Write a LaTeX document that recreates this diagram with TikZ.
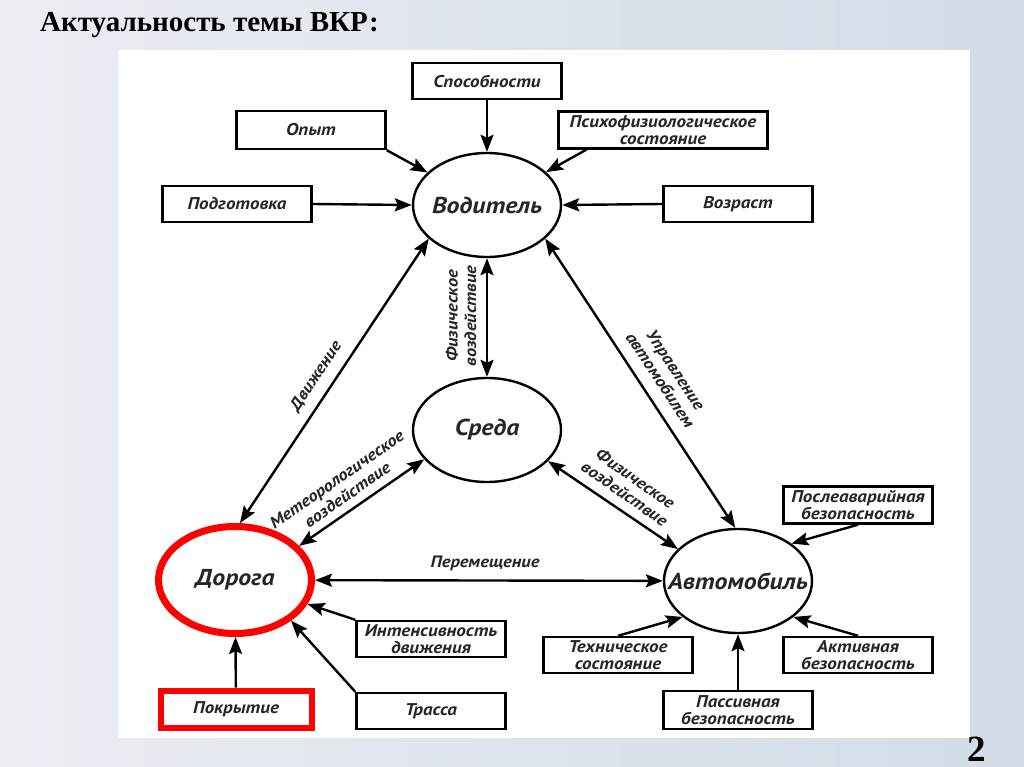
\documentclass[tikz,border=0pt]{standalone}
\usepackage{fontspec}
\setmainfont{Liberation Serif}
\newfontfamily\lbl{PT Sans}[FakeStretch=1.12]
\usetikzlibrary{arrows.meta,shapes.geometric}
\definecolor{bgL}{HTML}{EBEEF3}
\definecolor{bgR}{HTML}{D2DBE7}
\definecolor{txt}{HTML}{262626}
\newcommand{\ctext}[1]{\makebox[0pt]{#1}}
\begin{document}
\begin{tikzpicture}[x=1pt,y=-1pt,
  box/.style={draw=black,line width=2.4pt,fill=white,minimum width=149pt,minimum height=36pt,inner sep=0pt,align=center,text=txt,
    font=\lbl\itshape\bfseries\fontsize{17}{17}\selectfont},
  ell/.style={ellipse,draw=black,line width=2.4pt,fill=white,minimum width=148pt,minimum height=104pt,inner sep=0pt,text=txt,
    font=\lbl\itshape\bfseries\fontsize{23}{26}\selectfont},
  tip/.tip={Stealth[length=17pt,width=13pt,inset=3pt]},
  arr/.style={line width=2.4pt,-tip},
  darr/.style={line width=2.4pt,tip-tip},
  lab/.style={font=\lbl\itshape\bfseries\fontsize{16.5}{18.5}\selectfont,align=center,inner sep=0pt,text=txt}
]
\useasboundingbox (0,0) rectangle (1024,767);
\shade[left color=bgL,right color=bgR] (0,0) rectangle (1024,767);
\fill[white] (118,50) rectangle (970,738);

\node[anchor=base west,inner sep=0pt,font=\bfseries\fontsize{29}{34}\selectfont] (title) at (40,32) {Актуальность темы ВКР:};
\node[anchor=base west,inner sep=0pt,font=\bfseries\fontsize{37}{40}\selectfont] (num) at (967,761) {2};

% ellipses
\node[ell] (vod) at (487,205) {\ctext{Водитель}};
\node[ell] (sre) at (487,430) {\ctext{Среда}};
\node[ell,draw=red,line width=7pt,minimum width=153pt,minimum height=107pt,outer sep=3.5pt] (dor) at (235,580) {\ctext{Дорога}};
\node[ell] (avt) at (738,581) {\ctext{Автомобиль}};

% boxes
\node[box] (spo) at (487,81) {Способности};
\node[box,minimum width=209pt,minimum height=37pt] (psi) at (663,130) {Психофизиологическое\\состояние};
\node[box] (voz) at (738,204) {Возраст};
\node[box,minimum height=38pt] (opy) at (311,130) {Опыт};
\node[box] (pod) at (237,204) {Подготовка};
\node[box,draw=red,line width=6pt,minimum width=151pt,minimum height=37pt,outer sep=3pt] (pok) at (236,709) {Покрытие};
\node[box] (int) at (431,639) {Интенсивность\\движения};
\node[box] (tra) at (431,711) {Трасса};
\node[box,minimum height=37pt] (pos) at (858,505) {Послеаварийная\\безопасность};
\node[box] (teh) at (618,655) {Техническое\\состояние};
\node[box] (akt) at (858,655) {Активная\\безопасность};
\node[box,minimum height=38pt] (pas) at (738,710) {Пассивная\\безопасность};

% arrows into Водитель
\draw[arr] (spo) -- (vod);
\draw[arr] (opy.south east) -- (vod);
\draw[arr] ([xshift=29pt]psi.south west) -- (vod);
\draw[arr] (pod.east) -- (vod.west);
\draw[arr] (voz.west) -- (vod.east);

% main relations
\draw[darr] (vod) -- (sre);
\draw[darr] (vod.210) -- (dor.85);
\draw[darr] (vod.330) -- (avt.93);
\draw[darr] (sre.205) -- (dor.28);
\draw[darr] (sre.333) -- (avt.152);
\draw[darr] (dor) -- (avt);

% arrows into Дорога
\draw[arr] (int.north west) -- (dor);
\draw[arr] (tra.north west) -- (dor.324);
\draw[arr] (pok) -- (dor);

% arrows into Автомобиль
\draw[arr] (pos.south) -- (avt.35);
\draw[arr] (teh.north) -- (avt.213);
\draw[arr] (akt.north) -- (avt.327);
\draw[arr] (pas) -- (avt);

% labels
\node[lab] (lper) at (485,563) {Перемещение};
\node[lab,rotate=56.5] (ldv) at (316,376) {Движение};
\node[lab,rotate=90] (lfv) at (461,316) {Физическое\\воздействие};
\node[lab,rotate=-56.5] (lupr) at (668,375) {Управление\\автомобилем};
\node[lab,rotate=35] (lmet) at (342,487) {Метеорологическое\\воздействие};
\node[lab,rotate=-35] (lfv2) at (630,486) {Физическое\\воздействие};
\end{tikzpicture}
\end{document}
